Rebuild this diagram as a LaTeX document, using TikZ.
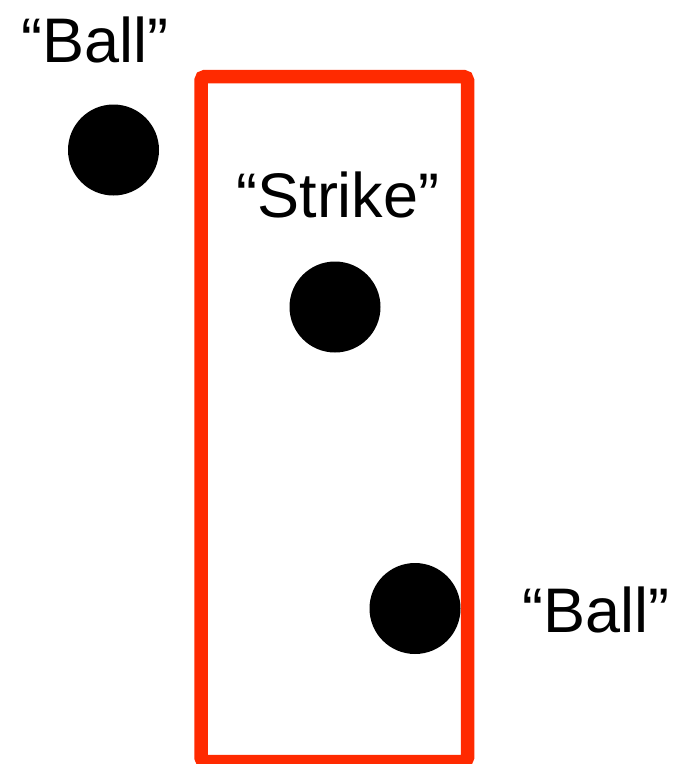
\documentclass[tikz,border=0pt]{standalone}
\usepackage{fontspec}
\setmainfont{Liberation Sans}
\definecolor{zonered}{RGB}{255,42,0}
\begin{document}
\begin{tikzpicture}[x=1pt,y=-1pt,
  ball/.style={circle,fill=black,inner sep=0pt,minimum size=91pt},
  lbl/.style={font=\fontsize{63}{68}\selectfont,inner sep=0pt,anchor=base},
  zone/.style={draw=zonered,line width=13.5pt,rounded corners=4pt}]
\useasboundingbox (0,0) rectangle (684,764);
\begin{scope}
\clip (0,0) rectangle (684,764);
\draw[zone] (201,76.5) rectangle (467.5,761.5);
\end{scope}
\node[ball] (b1) at (113.5,150) {};
\node[ball] (b2) at (335,307) {};
\node[ball] (b3) at (415,608.5) {};
\node[lbl] (t1) at (95,62) {“Ball”};
\node[lbl] (t2) at (338,217) {“Strike”};
\node[lbl] (t3) at (596,632) {“Ball”};
\end{tikzpicture}
\end{document}
